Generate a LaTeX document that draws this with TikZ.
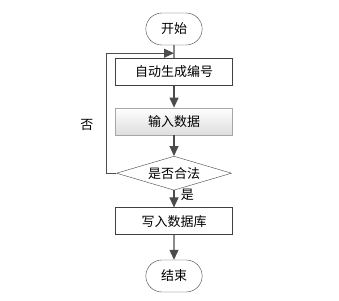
\documentclass[tikz,border=0pt]{standalone}
\usepackage{fontspec}
\newfontfamily\cjk{Noto Sans CJK SC}
\usepackage{tikz}
\usetikzlibrary{arrows.meta,positioning,shapes.geometric,shapes.misc}
\tikzset{
term/.style={draw=black!75,rounded rectangle,minimum height=32pt,minimum width=63pt,font=\cjk\fontsize{13}{15}\selectfont},
block/.style={draw=black!75,align=center,minimum height=27pt,minimum width=117pt,font=\cjk\fontsize{13}{15}\selectfont},
shadedblock/.style={block,draw=black!35,top color=white,bottom color=black!13},
check/.style={draw=black!75,diamond,aspect=3.4,inner sep=0pt,minimum width=115pt,minimum height=34pt,font=\cjk\fontsize{13}{15}\selectfont},
arrow/.style={-{Triangle[length=10pt,width=9pt]},line width=1.1pt,draw=black!70},
line/.style={line width=1.1pt,draw=black!70}
}
\begin{document}
\begin{tikzpicture}[node distance=20pt]
\useasboundingbox (0,0) rectangle (339pt,-300pt);
\node[term] (start) at (174pt,-29pt) {开始};
\node[block,below=13pt of start] (num) {自动生成编号};
\node[shadedblock,below=22pt of num] (input) {输入数据};
\node[check,below=21pt of input] (chk) {是否合法};
\node[block,below=17pt of chk] (write) {写入数据库};
\node[term,below=25pt of write] (stop) {结束};
\coordinate[below=8pt of start] (join);
\draw[line] (start)--(num);
\draw[arrow] (num)--(input);
\draw[arrow] (input)--(chk);
\draw[arrow] (chk)--node[pos=.25,right=3pt,font=\cjk\fontsize{13}{15}\selectfont]{是}(write);
\draw[arrow] (write)--(stop);
\draw[arrow] (chk.west)--++(-10pt,0) |- node[pos=.2,left=9pt,font=\cjk\fontsize{13}{15}\selectfont]{否}(join);
\end{tikzpicture}
\end{document}
